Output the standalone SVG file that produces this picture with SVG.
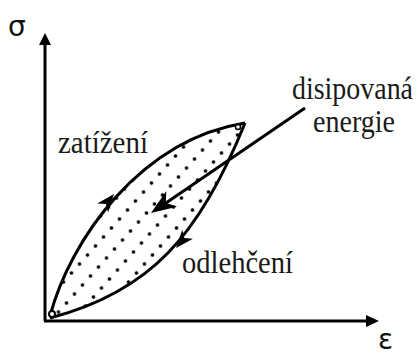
<svg xmlns="http://www.w3.org/2000/svg" width="417" height="354" viewBox="0 0 417 354">
  <style>
    .ax { stroke: #000; stroke-width: 3; fill: none; }
    .crv { stroke: #000; stroke-width: 3; fill: none; }
    .lbl { font-size: 31px; fill: #1a1a1a; }
    .sym { font-size: 28px; fill: #111; }
    .head { fill: #000; }
  </style>
  <defs>
    <pattern id="dots" patternUnits="userSpaceOnUse" width="19" height="9" patternTransform="matrix(1,0.158,-0.889,1,0,0)">
      <circle transform="translate(9.5,4.5) matrix(0.877,-0.1386,0.780,0.877,0,0)" r="1.8" fill="#000"/>
    </pattern>
    <clipPath id="loopClip">
      <path d="M50,316 C70,240 140,140 245,123 C200,235 150,292 50,318 Z"/>
    </clipPath>
  </defs>

  <g id="axes">
    <line class="ax" x1="45" y1="321" x2="45" y2="42"/>
    <path class="head" d="M45,33 L39,45 L51,45 Z"/>
    <line class="ax" x1="44" y1="321" x2="369" y2="321"/>
    <path class="head" d="M379,321 L366,315 L366,327 Z"/>
    <text class="sym" font-family="DejaVu Sans, sans-serif" x="8" y="36">σ</text>
    <text class="sym" font-family="DejaVu Sans, sans-serif" x="378" y="349">ε</text>
  </g>

  <g id="dissipated-area">
    <rect x="40" y="110" width="220" height="215" fill="url(#dots)" clip-path="url(#loopClip)"/>
  </g>

  <g id="loading-curve">
    <path class="crv" d="M50,316 C70,240 140,140 245,123"/>
    <path class="head" transform="translate(114,194) rotate(-51)" d="M0,0 L-18,-7 L-13,0 L-18,7 Z"/>
  </g>

  <g id="unloading-curve">
    <path class="crv" d="M50,318 C150,292 200,235 245,123"/>
    <path class="head" transform="translate(176,248) rotate(130)" d="M0,0 L-18,-7 L-13,0 L-18,7 Z"/>
  </g>

  <g id="joints">
    <circle cx="52" cy="314" r="3" fill="#fff" stroke="#000" stroke-width="2"/>
    <circle cx="238" cy="127" r="2.5" fill="#fff" stroke="#000" stroke-width="1.5"/>
  </g>

  <g id="connectors">
    <line class="crv" x1="305" y1="108" x2="163" y2="205"/>
    <path class="head" transform="translate(151,213) rotate(145.7)" d="M0,0 L-25,-9.5 L-18,0 L-25,9.5 Z"/>
  </g>

  <g id="label-zatizeni">
    <text class="lbl" font-family="Liberation Serif, serif" x="58" y="153" textLength="90" lengthAdjust="spacingAndGlyphs">zatížení</text>
  </g>
  <g id="label-disipovana">
    <text class="lbl" font-family="Liberation Serif, serif" x="292" y="99" textLength="121" lengthAdjust="spacingAndGlyphs">disipovaná</text>
    <text class="lbl" font-family="Liberation Serif, serif" x="313" y="132" textLength="82" lengthAdjust="spacingAndGlyphs">energie</text>
  </g>
  <g id="label-odlehceni">
    <text class="lbl" font-family="Liberation Serif, serif" x="182" y="273" textLength="111" lengthAdjust="spacingAndGlyphs">odlehčení</text>
  </g>
</svg>
